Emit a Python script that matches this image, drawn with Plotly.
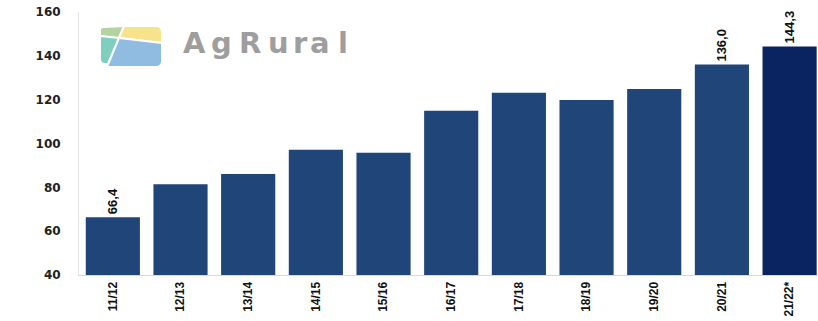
import plotly.graph_objects as go

seasons = ["11/12", "12/13", "13/14", "14/15", "15/16", "16/17", "17/18", "18/19", "19/20", "20/21", "21/22*"]
production = [66.4, 81.4, 86.1, 97.1, 95.8, 115.0, 123.2, 119.8, 124.9, 136.0, 144.3]
value_labels = ["66,4", "", "", "", "", "", "", "", "", "136,0", "144,3"]
bar_colors = ["#1F4579"] * 10 + ["#0A2461"]
y_ticks = [40, 60, 80, 100, 120, 140, 160]

W, H = 818, 321
L, R, T, B = 79, 0, 12, 46

def px(x, y):
    return (x - L) / (W - L - R), (H - B - y) / (H - T - B)

def path(points):
    s = ""
    for cmd, pts in points:
        if cmd == "Q":
            s += "Q" + " ".join("%.4f,%.4f" % px(*p) for p in pts) + " "
        else:
            for p in pts:
                s += cmd + "%.4f,%.4f " % px(*p)
    return s + "Z"

fig = go.Figure()
fig.add_trace(go.Bar(
    x=seasons, y=production, width=0.8,
    marker=dict(color=bar_colors, line=dict(width=0)),
    text=value_labels, textposition="outside", textangle=-90,
    textfont=dict(family="Liberation Sans Narrow, Liberation Sans", size=13, color="#111111", weight="bold"),
    cliponaxis=False,
))

logo = [
    ("#B3D4A0", [("M", [(100, 36)]), ("L", [(100, 30)]), ("Q", [(100, 27), (103, 27)]), ("L", [(124, 26), (119, 38)])]),
    ("#F7E38A", [("M", [(124, 26)]), ("L", [(156, 26)]), ("Q", [(162, 26), (162, 32)]), ("L", [(162, 43), (119, 38)])]),
    ("#7ED0BE", [("M", [(100, 36)]), ("L", [(119, 38), (108, 64), (105, 64)]), ("Q", [(100, 64), (100, 59)])]),
    ("#90BCE2", [("M", [(119, 38)]), ("L", [(162, 43), (162, 61)]), ("Q", [(162, 67), (156, 67)]), ("L", [(107, 67)])]),
]
shapes = []
for col, pts in logo:
    shapes.append(dict(type="path", xref="paper", yref="paper", path=path(pts),
                       fillcolor=col, line=dict(color="white", width=2), layer="above"))

logo_letters = ["A", "g", "R", "u", "r", "a", "l"]
letter_x = [194, 221.5, 250, 278.5, 300, 320, 343]
for ch, lx in zip(logo_letters, letter_x):
    ax, ay = px(lx, 43)
    fig.add_annotation(x=ax, y=ay, xref="paper", yref="paper", text=ch, showarrow=False,
                       font=dict(family="DejaVu Sans", size=29, color="#9E9E9E", weight="bold"),
                       xanchor="center", yanchor="middle")

fig.update_layout(
    width=W, height=H,
    margin=dict(l=L, r=R, t=T, b=B, pad=0, autoexpand=False),
    paper_bgcolor="white", plot_bgcolor="white",
    showlegend=False, bargap=0.2,
    shapes=shapes,
    xaxis=dict(range=[-0.5, 10.42], tickangle=-90, showgrid=False, showline=True, automargin=False,
               linecolor="#D9D9D9", linewidth=1, ticks="outside", ticklen=1, tickcolor="rgba(0,0,0,0)",
               tickfont=dict(family="Liberation Sans Narrow, Liberation Sans", size=12, color="#111111", weight="bold")),
    yaxis=dict(range=[40, 160], tickvals=y_ticks, showgrid=False, showline=True, automargin=False,
               linecolor="#E3E3E3", linewidth=1, zeroline=False, ticks="outside", ticklen=15,
               tickcolor="rgba(0,0,0,0)",
               tickfont=dict(family="DejaVu Sans", size=12, color="#222222", weight="bold")),
)

fig.write_html("out.html", config={"displayModeBar": False},
               post_script="document.body.style.margin='0';document.body.style.overflow='hidden';")
